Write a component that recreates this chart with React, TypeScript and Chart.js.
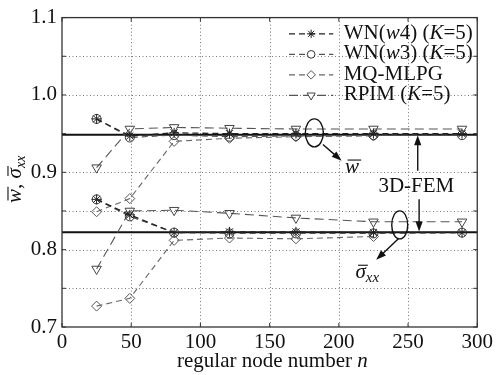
import React, { useEffect, useRef } from "react";
import { Chart, registerables } from "chart.js";
import { drawPoint } from "chart.js/helpers";
Chart.register(...registerables);

// regular node numbers
const N = [25, 49, 81, 121, 169, 225, 289];

// normalized deflection w-bar
const W_WN4 = [0.969, 0.947, 0.951, 0.950, 0.950, 0.950, 0.950];
const W_WN3 = [0.969, 0.945, 0.948, 0.946, 0.947, 0.948, 0.948];
const W_MQ = [0.849, 0.866, 0.940, 0.944, 0.946, 0.947];
const W_RPIM = [0.906, 0.956, 0.958, 0.957, 0.956, 0.956, 0.956];

// normalized stress sigma-bar xx
const S_WN4 = [0.865, 0.845, 0.822, 0.823, 0.823, 0.822, 0.822];
const S_WN3 = [0.865, 0.843, 0.822, 0.821, 0.821, 0.821, 0.822];
const S_MQ = [0.727, 0.737, 0.812, 0.815, 0.814, 0.817];
const S_RPIM = [0.775, 0.850, 0.851, 0.847, 0.841, 0.836, 0.836];

// 3D-FEM reference values
const FEM_W = 0.9485;
const FEM_S = 0.8225;

const X_MIN = 0;
const X_MAX = 300;
const X_STEP = 50;
const Y_MIN = 0.7;
const Y_MAX = 1.1;
const Y_STEP = 0.05;

const SERIF = "'Liberation Serif', serif";

const pts = (vals: number[]) => vals.map((v, i) => ({ x: N[i], y: v }));

type Style = {
  color: string;
  mColor: string;
  dash: number[];
  pointStyle: any;
  radius: number;
  rotation: number;
  lw: number;
};

const STYLES: Record<string, Style> = {
  wn4: { color: "#222", mColor: "#222", dash: [6, 4], pointStyle: "star", radius: 5, rotation: 0, lw: 1.3 },
  wn3: { color: "#555", mColor: "#333", dash: [6, 4], pointStyle: "circle", radius: 4.5, rotation: 0, lw: 1.1 },
  mq: { color: "#666", mColor: "#555", dash: [6, 4], pointStyle: "rectRot", radius: 5, rotation: 0, lw: 1.1 },
  rpim: { color: "#555", mColor: "#444", dash: [9, 5], pointStyle: "triangle", radius: 5.5, rotation: 180, lw: 1.1 },
};

function ds(key: string, vals: number[], order: number) {
  const s = STYLES[key];
  return {
    data: pts(vals),
    borderColor: s.color,
    borderWidth: s.lw,
    borderDash: s.dash,
    pointStyle: s.pointStyle,
    pointRadius: s.radius,
    pointRotation: s.rotation,
    pointBorderColor: s.mColor,
    pointBackgroundColor: "rgba(255,255,255,0)",
    pointBorderWidth: 1,
    fill: false,
    tension: 0,
    order,
  };
}

function femLine(v: number) {
  return {
    data: [
      { x: X_MIN, y: v },
      { x: X_MAX, y: v },
    ],
    borderColor: "#111",
    borderWidth: 2,
    pointRadius: 0,
    fill: false,
    order: 10,
  };
}

type Seg = { t: string; it?: boolean; size?: number; dy?: number; bar?: boolean };

function richWidth(ctx: CanvasRenderingContext2D, segs: Seg[], base: number) {
  let w = 0;
  for (const s of segs) {
    ctx.font = `${s.it ? "italic " : ""}${s.size || base}px ${SERIF}`;
    w += ctx.measureText(s.t).width;
  }
  return w;
}

function drawRich(ctx: CanvasRenderingContext2D, segs: Seg[], x: number, y: number, base: number, align: "left" | "center") {
  ctx.save();
  ctx.textBaseline = "alphabetic";
  ctx.textAlign = "left";
  let cx = x;
  if (align === "center") cx = x - richWidth(ctx, segs, base) / 2;
  for (const s of segs) {
    const size = s.size || base;
    ctx.font = `${s.it ? "italic " : ""}${size}px ${SERIF}`;
    const w = ctx.measureText(s.t).width;
    ctx.fillText(s.t, cx, y + (s.dy || 0));
    if (s.bar) {
      ctx.beginPath();
      ctx.lineWidth = 1.1;
      const by = y + (s.dy || 0) - size * 0.62;
      ctx.moveTo(cx + size * 0.12, by);
      ctx.lineTo(cx + w + size * 0.1, by);
      ctx.stroke();
    }
    cx += w;
  }
  ctx.restore();
}

function arrow(ctx: CanvasRenderingContext2D, x1: number, y1: number, x2: number, y2: number) {
  const ang = Math.atan2(y2 - y1, x2 - x1);
  const h = 10;
  const hw = 3.6;
  ctx.beginPath();
  ctx.moveTo(x1, y1);
  ctx.lineTo(x2 - Math.cos(ang) * h * 0.7, y2 - Math.sin(ang) * h * 0.7);
  ctx.stroke();
  ctx.beginPath();
  ctx.moveTo(x2, y2);
  ctx.lineTo(x2 - Math.cos(ang) * h - Math.sin(ang) * hw, y2 - Math.sin(ang) * h + Math.cos(ang) * hw);
  ctx.lineTo(x2 - Math.cos(ang) * h + Math.sin(ang) * hw, y2 - Math.sin(ang) * h - Math.cos(ang) * hw);
  ctx.closePath();
  ctx.fill();
}

const LEGEND: { key: string; segs: Seg[] }[] = [
  { key: "wn4", segs: [{ t: "WN(" }, { t: "w", it: true }, { t: "4) (" }, { t: "K", it: true }, { t: "=5)" }] },
  { key: "wn3", segs: [{ t: "WN(" }, { t: "w", it: true }, { t: "3) (" }, { t: "K", it: true }, { t: "=5)" }] },
  { key: "mq", segs: [{ t: "MQ-MLPG" }] },
  { key: "rpim", segs: [{ t: "RPIM (" }, { t: "K", it: true }, { t: "=5)" }] },
];

const gridPlugin = {
  id: "customGrid",
  beforeDatasetsDraw(chart: any) {
    const { ctx, chartArea, scales } = chart;
    const { left, right, top, bottom } = chartArea;
    ctx.save();
    ctx.strokeStyle = "#777";
    ctx.lineWidth = 1;
    ctx.setLineDash([1, 2.5]);
    for (let v = X_MIN + X_STEP; v < X_MAX; v += X_STEP) {
      const px = Math.round(scales.x.getPixelForValue(v)) + 0.5;
      ctx.beginPath();
      ctx.moveTo(px, top);
      ctx.lineTo(px, bottom);
      ctx.stroke();
    }
    for (let i = 1; i < Math.round((Y_MAX - Y_MIN) / Y_STEP); i++) {
      const v = Y_MIN + i * Y_STEP;
      const py = Math.round(scales.y.getPixelForValue(v)) + 0.5;
      ctx.beginPath();
      ctx.moveTo(left, py);
      ctx.lineTo(right, py);
      ctx.stroke();
    }
    ctx.restore();
  },
};

const decoPlugin = {
  id: "deco",
  afterDraw(chart: any) {
    const { ctx, chartArea, scales } = chart;
    const { left, right, top, bottom } = chartArea;
    const X = (v: number) => scales.x.getPixelForValue(v);
    const Y = (v: number) => scales.y.getPixelForValue(v);
    ctx.save();
    ctx.strokeStyle = "#333";
    ctx.lineWidth = 1.3;
    ctx.setLineDash([]);
    ctx.strokeRect(left, top, right - left, bottom - top);
    ctx.lineWidth = 1;
    for (let v = X_MIN; v <= X_MAX; v += X_STEP) {
      const px = X(v);
      ctx.beginPath();
      ctx.moveTo(px, bottom);
      ctx.lineTo(px, bottom - 4);
      ctx.moveTo(px, top);
      ctx.lineTo(px, top + 4);
      ctx.stroke();
    }
    for (let i = 0; i <= Math.round((Y_MAX - Y_MIN) / Y_STEP); i++) {
      const py = Y(Y_MIN + i * Y_STEP);
      ctx.beginPath();
      ctx.moveTo(left, py);
      ctx.lineTo(left + 4, py);
      ctx.moveTo(right, py);
      ctx.lineTo(right - 4, py);
      ctx.stroke();
    }

    // legend
    const lx0 = X(164);
    const lx1 = X(196);
    const tx = X(203.5);
    LEGEND.forEach((row, i) => {
      const s = STYLES[row.key];
      const ly = Y(1.079) + i * 20.5;
      ctx.save();
      ctx.strokeStyle = s.color;
      ctx.lineWidth = s.lw;
      ctx.setLineDash(s.dash);
      ctx.beginPath();
      ctx.moveTo(lx0, ly);
      ctx.lineTo(lx1, ly);
      ctx.stroke();
      ctx.setLineDash([]);
      ctx.strokeStyle = s.mColor;
      ctx.fillStyle = "#fff";
      ctx.lineWidth = 1;
      drawPoint(ctx, { pointStyle: s.pointStyle, radius: s.radius * 0.85, rotation: s.rotation, borderWidth: 1 }, (lx0 + lx1) / 2, ly);
      ctx.restore();
      ctx.fillStyle = "#111";
      ctx.strokeStyle = "#111";
      drawRich(ctx, row.segs, tx, ly + 5, 21, "left");
    });

    // annotations
    ctx.strokeStyle = "#111";
    ctx.fillStyle = "#111";
    ctx.lineWidth = 1.4;
    ctx.setLineDash([]);
    ctx.beginPath();
    ctx.ellipse(X(182.3), Y(0.951), 9, 14, 0, 0, Math.PI * 2);
    ctx.stroke();
    arrow(ctx, X(188.5), Y(0.936), X(202), Y(0.915));
    drawRich(ctx, [{ t: "w", it: true, bar: true }], X(204.5), Y(0.899), 21, "left");

    ctx.beginPath();
    ctx.ellipse(X(244), Y(0.832), 8, 14, 0, 0, Math.PI * 2);
    ctx.stroke();
    arrow(ctx, X(243), Y(0.814), X(227), Y(0.787));
    drawRich(ctx, [{ t: "σ", it: true, bar: true }, { t: "xx", it: true, size: 15, dy: 4 }], X(212), Y(0.763), 21, "left");

    drawRich(ctx, [{ t: "3D-FEM" }], X(256), Y(0.874), 21, "center");
    arrow(ctx, X(257), Y(0.902), X(257), Y(0.948));
    arrow(ctx, X(258), Y(0.865), X(258), Y(0.8235));

    drawRich(ctx, [{ t: "regular node number " }, { t: "n", it: true }], X(152), 367, 21, "center");
    ctx.save();
    ctx.translate(21, Y(0.9));
    ctx.rotate(-Math.PI / 2);
    drawRich(
      ctx,
      [
        { t: "w", it: true, bar: true },
        { t: ", " },
        { t: "σ", it: true, bar: true },
        { t: "xx", it: true, size: 14, dy: 4 },
      ],
      -7,
      0,
      21,
      "center"
    );
    ctx.restore();
    ctx.restore();
  },
};

export default function App() {
  const ref = useRef<HTMLCanvasElement>(null);
  useEffect(() => {
    if (!ref.current) return;
    const chart = new Chart(ref.current, {
      type: "line",
      data: {
        datasets: [
          femLine(FEM_W),
          femLine(FEM_S),
          ds("rpim", W_RPIM, 5),
          ds("rpim", S_RPIM, 5),
          ds("mq", W_MQ, 4),
          ds("mq", S_MQ, 4),
          ds("wn3", W_WN3, 3),
          ds("wn3", S_WN3, 3),
          ds("wn4", W_WN4, 2),
          ds("wn4", S_WN4, 2),
        ] as any,
      },
      options: {
        animation: false,
        responsive: false,
        devicePixelRatio: 1,
        layout: { padding: { top: 12, right: 12, left: 0, bottom: 0 }, autoPadding: false } as any,
        plugins: { legend: { display: false }, tooltip: { enabled: false } },
        scales: {
          x: {
            type: "linear",
            min: X_MIN,
            max: X_MAX,
            grid: { display: false, drawTicks: false },
            border: { display: false },
            ticks: {
              stepSize: X_STEP,
              padding: 3,
              color: "#111",
              font: { family: SERIF, size: 21 },
              maxRotation: 0,
              callback: (v: any) => String(v),
            },
            afterFit: (s: any) => {
              s.height = 48;
            },
          },
          y: {
            type: "linear",
            min: Y_MIN,
            max: Y_MAX,
            grid: { display: false, drawTicks: false },
            border: { display: false },
            ticks: {
              stepSize: Y_STEP,
              padding: 5,
              color: "#111",
              font: { family: SERIF, size: 21 },
              callback: (v: any) => {
                const n = Number(v) * 10;
                return Math.abs(n - Math.round(n)) < 1e-6 ? Number(v).toFixed(1) : "";
              },
            },
            afterFit: (s: any) => {
              s.width = 62;
            },
          },
        },
      },
      plugins: [gridPlugin, decoPlugin],
    });
    return () => chart.destroy();
  }, []);
  return (
    <div style={{ position: "fixed", left: 0, top: 0, width: 496, height: 375, background: "#fff" }}>
      <canvas ref={ref} width={496} height={375} style={{ display: "block" }} />
    </div>
  );
}
